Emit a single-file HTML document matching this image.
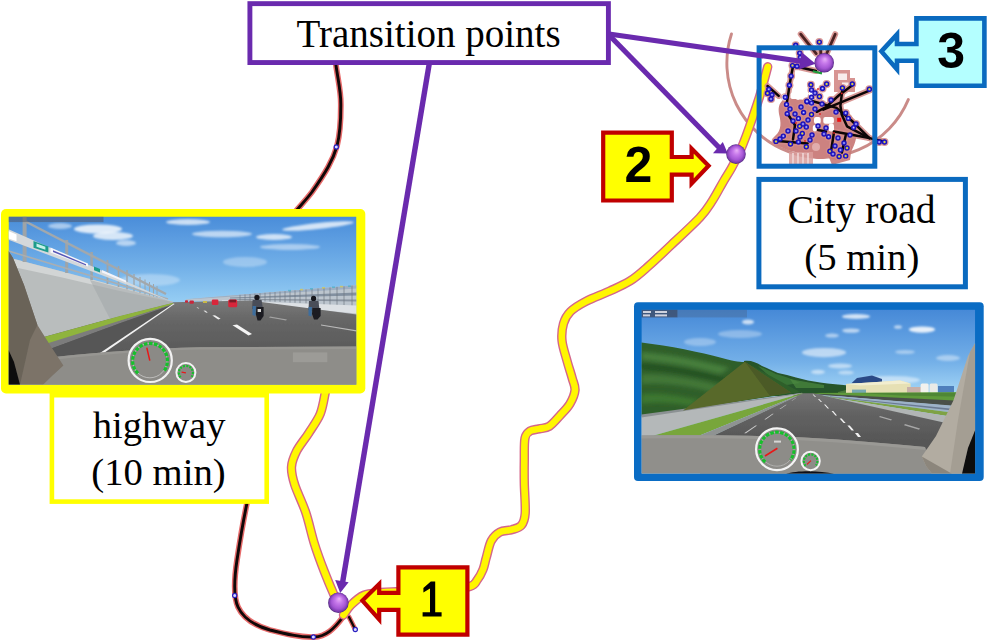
<!DOCTYPE html>
<html>
<head>
<meta charset="utf-8">
<title>Driving route with transition points</title>
<style>
  html, body { margin: 0; padding: 0; background: #ffffff; }
  body { width: 989px; height: 644px; overflow: hidden; }
  svg { display: block; }
  .serif { font-family: "Liberation Serif", serif; font-size: 38px; fill: #000; }
  .num { font-family: "Liberation Sans", sans-serif; font-weight: bold; font-size: 50px; fill: #000; }
</style>
</head>
<body>
<svg width="989" height="644" viewBox="0 0 989 644">
  <defs>
    <radialGradient id="ball" cx="0.5" cy="0.5" r="0.5" fx="0.54" fy="0.3">
      <stop offset="0" stop-color="#e9b0f8"/>
      <stop offset="0.35" stop-color="#c678ea"/>
      <stop offset="0.7" stop-color="#a556d4"/>
      <stop offset="0.9" stop-color="#7c3cae"/>
      <stop offset="1" stop-color="#4a2478"/>
    </radialGradient>
    <linearGradient id="sky1" x1="0" y1="0" x2="0" y2="1">
      <stop offset="0" stop-color="#4a8dd9"/>
      <stop offset="0.12" stop-color="#5a9be0"/>
      <stop offset="0.3" stop-color="#72b0e8"/>
      <stop offset="0.5" stop-color="#94ccf3"/>
      <stop offset="1" stop-color="#94ccf3"/>
    </linearGradient>
    <linearGradient id="sky2" x1="0" y1="0" x2="0" y2="1">
      <stop offset="0" stop-color="#4689d7"/>
      <stop offset="0.14" stop-color="#5a9adf"/>
      <stop offset="0.32" stop-color="#74b0e8"/>
      <stop offset="0.5" stop-color="#a2d4f5"/>
      <stop offset="1" stop-color="#a2d4f5"/>
    </linearGradient>
    <linearGradient id="roadct" x1="0" y1="393" x2="0" y2="440" gradientUnits="userSpaceOnUse">
      <stop offset="0" stop-color="#747474"/>
      <stop offset="0.45" stop-color="#626262"/>
      <stop offset="1" stop-color="#575757"/>
    </linearGradient>
    <linearGradient id="roadhw" x1="0" y1="301" x2="0" y2="350" gradientUnits="userSpaceOnUse">
      <stop offset="0" stop-color="#787878"/>
      <stop offset="0.4" stop-color="#666666"/>
      <stop offset="1" stop-color="#5a5a5a"/>
    </linearGradient>
    <filter id="soft" x="-5%" y="-5%" width="110%" height="110%"><feGaussianBlur stdDeviation="0.6"/></filter>
    <filter id="soft2" x="-5%" y="-5%" width="110%" height="110%"><feGaussianBlur stdDeviation="1.2"/></filter>
    <filter id="soft3" x="-10%" y="-10%" width="120%" height="120%"><feGaussianBlur stdDeviation="2.2"/></filter>
    <path id="yrA" d="M767.7,66.8 C767.1,69.1 765.4,75.6 764.0,80.7 C762.6,85.8 761.2,91.5 759.3,97.5 C757.4,103.5 755.0,110.5 752.8,117.0 C750.6,123.5 748.0,131.0 745.9,136.6 C743.8,142.2 742.6,145.5 740.3,150.6 C738.0,155.7 734.7,162.2 731.9,167.3 C729.1,172.4 726.8,175.7 723.5,181.3 C720.2,186.9 716.2,194.8 712.3,200.8 C708.3,206.9 706.6,210.2 699.8,217.6 C693.0,224.9 680.0,236.7 671.3,244.9 C662.6,253.2 654.2,261.1 647.4,267.1 C640.6,273.1 636.6,276.8 630.3,280.8 C624.0,284.8 617.2,287.6 609.8,291.0 C602.4,294.4 592.4,297.9 585.9,301.3 C579.4,304.7 574.2,307.8 570.5,311.5 C566.8,315.2 564.9,318.6 563.5,323.5 C562.1,328.4 561.4,334.3 562.0,340.6 C562.6,346.9 565.4,354.8 567.1,361.1 C568.8,367.4 570.9,373.3 572.2,378.2 C573.5,383.1 575.4,386.0 575.0,390.3 C574.6,394.6 572.4,399.6 569.9,403.9 C567.4,408.2 563.1,412.2 559.7,415.9 C556.3,419.6 552.8,424.0 549.4,426.2 C546.0,428.4 542.3,428.1 539.1,428.9 C535.9,429.7 532.4,429.5 530.0,431.0 C527.6,432.5 526.0,433.3 525.0,438.1 C524.0,442.9 524.4,452.6 524.3,460.0 C524.2,467.4 524.1,473.7 524.3,482.6 C524.4,491.5 525.7,506.2 525.2,513.3 C524.7,520.4 523.6,522.6 521.4,525.3 C519.2,528.0 515.4,528.6 511.8,529.7 C508.2,530.8 503.2,530.3 499.8,532.1 C496.4,533.9 493.6,536.4 491.3,540.7 C489.0,545.0 487.6,553.0 486.2,557.8 C484.8,562.6 484.5,565.9 483.0,569.5 C481.5,573.1 479.6,576.9 477.4,579.7 C475.2,582.5 476.0,584.6 469.8,586.5 C463.6,588.4 452.3,590.1 440.0,591.0 C427.7,591.9 405.8,591.5 396.0,591.8 C386.2,592.0 386.3,591.9 381.0,592.5 C375.7,593.1 369.0,593.1 364.0,595.2 C359.0,597.3 354.4,601.7 351.0,605.0 C347.6,608.3 344.8,613.3 343.5,615.0"/>
    <path id="yrB" d="M325.4,392.0 C324.5,395.6 323.1,406.8 320.3,413.7 C317.5,420.6 312.4,427.2 308.5,433.4 C304.6,439.6 299.4,445.5 296.6,451.1 C293.8,456.7 291.8,461.3 291.5,466.9 C291.2,472.5 292.3,477.1 294.7,484.7 C297.1,492.3 302.4,502.4 305.7,512.3 C309.0,522.1 311.3,533.9 314.4,543.8 C317.5,553.7 321.0,563.0 324.3,571.5 C327.6,580.0 331.8,589.9 334.1,595.1 C336.4,600.4 337.4,601.7 338.0,603.0"/>
    <clipPath id="clipHw"><rect x="8.5" y="216.5" width="348" height="168.3"/></clipPath>
    <clipPath id="clipCt"><rect x="641.4" y="309.6" width="333.8" height="164.2"/></clipPath>
  </defs>

  <rect x="0" y="0" width="989" height="644" fill="#ffffff"/>

  <!-- ======== range rings around city ======== -->
  <g id="rings" fill="none" stroke="#c47e7b" stroke-width="2.9" stroke-linecap="round">
    <path d="M731.46,34 A94.4,94.4 0 0 0 908.32,99.6" opacity="0.9"/>
  </g>

  <!-- ======== black route (left) ======== -->
  <g id="blackroute" fill="none" stroke-linecap="round" stroke-linejoin="round">
    <path id="br1" d="M335.8,64 C338,80 341,92 340.8,104 C340.8,118 341,130 337,146 C333,160 326,172 312,192 C306,200 300,206 296,211" stroke="#e66a6a" stroke-width="5.8"/>
    <path d="M335.8,64 C338,80 341,92 340.8,104 C340.8,118 341,130 337,146 C333,160 326,172 312,192 C306,200 300,206 296,211" stroke="#100808" stroke-width="2.9"/>
    <path d="M247,503 C243,522 240,540 237,560 C234,580 233,596 238,607 C244,620 256,626 270,630 C286,634 300,637.5 314,637 C326,636.5 334,629 343,617" stroke="#e66a6a" stroke-width="5.8"/>
    <path d="M247,503 C243,522 240,540 237,560 C234,580 233,596 238,607 C244,620 256,626 270,630 C286,634 300,637.5 314,637 C326,636.5 334,629 343,617" stroke="#100808" stroke-width="2.9"/>
    <path d="M349,617 L355,629" stroke="#e66a6a" stroke-width="5"/>
    <path d="M349,617 L355,629" stroke="#100808" stroke-width="2.4"/>
  </g>
  <g id="routemarks" fill="#d8d8ff" stroke="#2a20c0" stroke-width="1.2">
    <circle cx="336.3" cy="147" r="2.1"/>
    <circle cx="234.7" cy="595.5" r="2.1"/>
    <circle cx="313.4" cy="637" r="2.1"/>
    <circle cx="355.3" cy="629.5" r="2.1"/>
  </g>

  <!-- ======== yellow route ======== -->
  <g id="yellowroute" fill="none" stroke-linecap="round" stroke-linejoin="round">
    <use href="#yrA" stroke="#d4668a" stroke-width="9.4"/>
    <use href="#yrB" stroke="#d4668a" stroke-width="9.4"/>
    <use href="#yrA" stroke="#fff600" stroke-width="6.6"/>
    <use href="#yrB" stroke="#fff600" stroke-width="6.6"/>
  </g>

  <!-- city map placeholder -->
  <g id="citymap">
  <g filter="url(#soft)">
  <path d="M782,101 C786,96 792,98 798,100 C806,98 812,104 820,106 C828,102 836,104 842,108 C850,112 856,120 856,128 C858,138 854,146 850,154 C846,160 836,162 828,157 C822,161 812,159 806,153 C798,153 788,151 781,147 C773,146 770,140 775,136 C782,130 781,122 779,114 C778,108 779,104 782,101 Z" fill="#cc8280"/>
  <path d="M789,152 L813,152 L813,165 L789,165 Z" fill="#d99c9a" opacity="0.85"/>
  <g stroke="#f3dede" stroke-width="1.4"><path d="M793,153 L793,165"/><path d="M798,153 L798,165"/><path d="M803,153 L803,165"/><path d="M808,153 L808,165"/></g>
  <path d="M826,150 L852,146 L850,160 L832,165 Z" fill="#c97a78" opacity="0.9"/>
  <ellipse cx="816" cy="147" rx="4" ry="4" fill="#e6b8b6" opacity="0.8"/>
  <path d="M834,70 L850,70 L850,78 L855,78 L855,92 L834,92 Z" fill="#d79492"/>
  <path d="M838,73.5 L847,73.5 L847,80 L838,80 Z M842,82.5 L851.5,82.5 L851.5,89 L842,89 Z" fill="#f8ecec"/>
  </g>
  <g filter="url(#soft)" opacity="0.9">
  <g stroke="#d48d8a" stroke-width="6" stroke-linecap="round" stroke-linejoin="round" fill="none">
  <path d="M816,71 L798.4,67 L793,66.3 L791,76.8 L789.4,86 L787.9,96.5 L786.5,104.4"/>
  <path d="M767.5,86 L778.7,95.9"/>
  <path d="M869.4,90.6 L823.3,109.7"/>
  <path d="M852.3,85.3 L839,95.2 L826,107 L816.8,111.8"/>
  <path d="M842.4,89.3 L840.4,105.7 L841.7,114.5 L847,126.3 L869.4,138.1"/>
  <path d="M812.8,101.3 L836.5,107.9 L852,121 L869.4,138.1"/>
  <path d="M833.9,131.5 L869.4,138.1 L885,141.6"/>
  <path d="M795,125 L793,139.4"/>
  <path d="M774.7,140.7 L790,142 L807.6,143.4"/>
  <path d="M833.9,132.9 L831.2,150"/>
  <path d="M845.7,135.5 L841.8,152.6"/>
  <path d="M818,130 L826,131.5"/>
  <path d="M787,113 L795,125"/>
  <path d="M800.7,34.2 L816.2,53.6"/>
  <path d="M820.6,49 L820.8,54"/>
  <path d="M835.2,34.2 L826.8,53.3"/>
  </g>
  <g fill="#d48d8a">
  <circle cx="819.3" cy="42.1" r="4"/>
  <circle cx="795.7" cy="45.3" r="4"/>
  <circle cx="799.7" cy="53.1" r="4"/>
  <circle cx="800.3" cy="57.4" r="4"/>
  <circle cx="792.5" cy="65.6" r="4"/>
  <circle cx="797.0" cy="66.3" r="4"/>
  <circle cx="791.1" cy="76.1" r="4"/>
  <circle cx="789.4" cy="85.3" r="4"/>
  <circle cx="786.5" cy="104.4" r="4"/>
  <circle cx="785.2" cy="97.2" r="4"/>
  <circle cx="767.5" cy="93.2" r="4"/>
  <circle cx="772.0" cy="94.8" r="4"/>
  <circle cx="768.8" cy="89.3" r="4"/>
  <circle cx="771.0" cy="99.0" r="4"/>
  <circle cx="810.9" cy="84.7" r="4"/>
  <circle cx="826.6" cy="84.0" r="4"/>
  <circle cx="819.4" cy="96.5" r="4"/>
  <circle cx="811.5" cy="90.0" r="4"/>
  <circle cx="811.5" cy="97.2" r="4"/>
  <circle cx="811.5" cy="103.0" r="4"/>
  <circle cx="807.0" cy="101.8" r="4"/>
  <circle cx="842.4" cy="88.0" r="4"/>
  <circle cx="852.3" cy="84.0" r="4"/>
  <circle cx="869.4" cy="89.3" r="4"/>
  <circle cx="822.5" cy="88.5" r="4"/>
  <circle cx="815.0" cy="93.0" r="4"/>
  <circle cx="776.0" cy="141.4" r="4"/>
  <circle cx="783.3" cy="136.1" r="4"/>
  <circle cx="790.5" cy="144.0" r="4"/>
  <circle cx="798.4" cy="142.0" r="4"/>
  <circle cx="806.3" cy="146.7" r="4"/>
  <circle cx="802.3" cy="133.5" r="4"/>
  <circle cx="799.7" cy="126.3" r="4"/>
  <circle cx="806.3" cy="127.0" r="4"/>
  <circle cx="811.5" cy="114.5" r="4"/>
  <circle cx="787.2" cy="113.8" r="4"/>
  <circle cx="798.4" cy="118.4" r="4"/>
  <circle cx="803.6" cy="112.5" r="4"/>
  <circle cx="806.9" cy="101.3" r="4"/>
  <circle cx="829.9" cy="151.3" r="4"/>
  <circle cx="839.1" cy="156.5" r="4"/>
  <circle cx="845.7" cy="155.9" r="4"/>
  <circle cx="847.0" cy="148.0" r="4"/>
  <circle cx="840.4" cy="150.0" r="4"/>
  <circle cx="879.2" cy="142.0" r="4"/>
  <circle cx="884.5" cy="142.0" r="4"/>
  <circle cx="845.7" cy="113.1" r="4"/>
  <circle cx="828.6" cy="136.8" r="4"/>
  <circle cx="853.6" cy="127.6" r="4"/>
  <circle cx="848.3" cy="118.4" r="4"/>
  <circle cx="793.0" cy="121.0" r="4"/>
  <circle cx="808.0" cy="120.0" r="4"/>
  <circle cx="803.0" cy="124.0" r="4"/>
  <circle cx="796.0" cy="131.0" r="4"/>
  <circle cx="812.0" cy="135.0" r="4"/>
  <circle cx="835.0" cy="146.0" r="4"/>
  <circle cx="844.0" cy="143.0" r="4"/>
  <circle cx="780.0" cy="139.0" r="4"/>
  <circle cx="836.0" cy="112.0" r="4"/>
  <circle cx="856.0" cy="124.0" r="4"/>
  <circle cx="790.0" cy="109.0" r="4"/>
  <circle cx="795.0" cy="114.0" r="4"/>
  <circle cx="801.0" cy="107.0" r="4"/>
  <circle cx="815.0" cy="109.0" r="4"/>
  <circle cx="822.0" cy="104.0" r="4"/>
  <circle cx="831.0" cy="100.0" r="4"/>
  <circle cx="818.0" cy="126.0" r="4"/>
  <circle cx="824.0" cy="134.0" r="4"/>
  <circle cx="810.0" cy="140.0" r="4"/>
  <circle cx="800.0" cy="137.0" r="4"/>
  <circle cx="788.0" cy="131.0" r="4"/>
  <circle cx="826.0" cy="128.0" r="4"/>
  <circle cx="850.0" cy="135.0" r="4"/>
  <circle cx="838.0" cy="138.0" r="4"/>
  <circle cx="833.0" cy="154.0" r="4"/>
  </g></g>
  <g fill="#ffffff" filter="url(#soft)">
  <rect x="782.0" y="94.5" width="6.0" height="6.0" rx="2"/>
  <rect x="790.5" y="92.6" width="6.9" height="6.4" rx="2"/>
  <rect x="799.7" y="88.0" width="7.3" height="5.9" rx="2"/>
  <rect x="808.9" y="87.3" width="4.6" height="18.4" rx="2"/>
  <rect x="814.0" y="117.0" width="6.7" height="6.7" rx="2"/>
  <rect x="823.3" y="117.0" width="10.6" height="6.7" rx="2"/>
  <rect x="828.6" y="123.7" width="5.4" height="7.8" rx="2"/>
  <rect x="812.8" y="125.0" width="4.0" height="6.5" rx="2"/>
  </g>
  <g stroke="#4a2222" stroke-width="2.8" stroke-linecap="round" fill="none">
  <path d="M800.7,34.2 L816.2,53.6"/>
  <path d="M820.6,49 L820.8,54"/>
  <path d="M835.2,34.2 L826.8,53.3"/>
  </g>
  <g stroke="#0c0606" stroke-width="2.5" stroke-linecap="round" stroke-linejoin="round" fill="none">
  <path d="M816,71 L798.4,67 L793,66.3 L791,76.8 L789.4,86 L787.9,96.5 L786.5,104.4"/>
  <path d="M767.5,86 L778.7,95.9"/>
  <path d="M869.4,90.6 L823.3,109.7"/>
  <path d="M852.3,85.3 L839,95.2 L826,107 L816.8,111.8"/>
  <path d="M842.4,89.3 L840.4,105.7 L841.7,114.5 L847,126.3 L869.4,138.1"/>
  <path d="M812.8,101.3 L836.5,107.9 L852,121 L869.4,138.1"/>
  <path d="M833.9,131.5 L869.4,138.1 L885,141.6"/>
  <path d="M795,125 L793,139.4"/>
  <path d="M774.7,140.7 L790,142 L807.6,143.4"/>
  <path d="M833.9,132.9 L831.2,150"/>
  <path d="M845.7,135.5 L841.8,152.6"/>
  <path d="M818,130 L826,131.5"/>
  <path d="M787,113 L795,125"/>
  </g>
  <path d="M812.8,71.2 L822,73.4" stroke="#1f9a3a" stroke-width="2.2" fill="none"/>
  <g fill="#4a44e0" stroke="#1a10b8" stroke-width="1.2">
  <circle cx="819.3" cy="42.1" r="2.1"/>
  <circle cx="795.7" cy="45.3" r="2.1"/>
  <circle cx="799.7" cy="53.1" r="2.1"/>
  <circle cx="800.3" cy="57.4" r="2.1"/>
  <circle cx="792.5" cy="65.6" r="2.1"/>
  <circle cx="797.0" cy="66.3" r="2.1"/>
  <circle cx="791.1" cy="76.1" r="2.1"/>
  <circle cx="789.4" cy="85.3" r="2.1"/>
  <circle cx="786.5" cy="104.4" r="2.1"/>
  <circle cx="785.2" cy="97.2" r="2.1"/>
  <circle cx="767.5" cy="93.2" r="2.1"/>
  <circle cx="772.0" cy="94.8" r="2.1"/>
  <circle cx="768.8" cy="89.3" r="2.1"/>
  <circle cx="771.0" cy="99.0" r="2.1"/>
  <circle cx="810.9" cy="84.7" r="2.1"/>
  <circle cx="826.6" cy="84.0" r="2.1"/>
  <circle cx="819.4" cy="96.5" r="2.1"/>
  <circle cx="811.5" cy="90.0" r="2.1"/>
  <circle cx="811.5" cy="97.2" r="2.1"/>
  <circle cx="811.5" cy="103.0" r="2.1"/>
  <circle cx="807.0" cy="101.8" r="2.1"/>
  <circle cx="842.4" cy="88.0" r="2.1"/>
  <circle cx="852.3" cy="84.0" r="2.1"/>
  <circle cx="869.4" cy="89.3" r="2.1"/>
  <circle cx="822.5" cy="88.5" r="2.1"/>
  <circle cx="815.0" cy="93.0" r="2.1"/>
  <circle cx="776.0" cy="141.4" r="2.1"/>
  <circle cx="783.3" cy="136.1" r="2.1"/>
  <circle cx="790.5" cy="144.0" r="2.1"/>
  <circle cx="798.4" cy="142.0" r="2.1"/>
  <circle cx="806.3" cy="146.7" r="2.1"/>
  <circle cx="802.3" cy="133.5" r="2.1"/>
  <circle cx="799.7" cy="126.3" r="2.1"/>
  <circle cx="806.3" cy="127.0" r="2.1"/>
  <circle cx="811.5" cy="114.5" r="2.1"/>
  <circle cx="787.2" cy="113.8" r="2.1"/>
  <circle cx="798.4" cy="118.4" r="2.1"/>
  <circle cx="803.6" cy="112.5" r="2.1"/>
  <circle cx="806.9" cy="101.3" r="2.1"/>
  <circle cx="829.9" cy="151.3" r="2.1"/>
  <circle cx="839.1" cy="156.5" r="2.1"/>
  <circle cx="845.7" cy="155.9" r="2.1"/>
  <circle cx="847.0" cy="148.0" r="2.1"/>
  <circle cx="840.4" cy="150.0" r="2.1"/>
  <circle cx="879.2" cy="142.0" r="2.1"/>
  <circle cx="884.5" cy="142.0" r="2.1"/>
  <circle cx="845.7" cy="113.1" r="2.1"/>
  <circle cx="828.6" cy="136.8" r="2.1"/>
  <circle cx="853.6" cy="127.6" r="2.1"/>
  <circle cx="848.3" cy="118.4" r="2.1"/>
  <circle cx="793.0" cy="121.0" r="2.1"/>
  <circle cx="808.0" cy="120.0" r="2.1"/>
  <circle cx="803.0" cy="124.0" r="2.1"/>
  <circle cx="796.0" cy="131.0" r="2.1"/>
  <circle cx="812.0" cy="135.0" r="2.1"/>
  <circle cx="835.0" cy="146.0" r="2.1"/>
  <circle cx="844.0" cy="143.0" r="2.1"/>
  <circle cx="780.0" cy="139.0" r="2.1"/>
  <circle cx="836.0" cy="112.0" r="2.1"/>
  <circle cx="856.0" cy="124.0" r="2.1"/>
  <circle cx="790.0" cy="109.0" r="2.1"/>
  <circle cx="795.0" cy="114.0" r="2.1"/>
  <circle cx="801.0" cy="107.0" r="2.1"/>
  <circle cx="815.0" cy="109.0" r="2.1"/>
  <circle cx="822.0" cy="104.0" r="2.1"/>
  <circle cx="831.0" cy="100.0" r="2.1"/>
  <circle cx="818.0" cy="126.0" r="2.1"/>
  <circle cx="824.0" cy="134.0" r="2.1"/>
  <circle cx="810.0" cy="140.0" r="2.1"/>
  <circle cx="800.0" cy="137.0" r="2.1"/>
  <circle cx="788.0" cy="131.0" r="2.1"/>
  <circle cx="826.0" cy="128.0" r="2.1"/>
  <circle cx="850.0" cy="135.0" r="2.1"/>
  <circle cx="838.0" cy="138.0" r="2.1"/>
  <circle cx="833.0" cy="154.0" r="2.1"/>
  </g>
  <g fill="#c8c8ff">
  <circle cx="795.7" cy="45.3" r="0.8"/>
  <circle cx="799.7" cy="53.1" r="0.8"/>
  <circle cx="800.3" cy="57.4" r="0.8"/>
  <circle cx="797.0" cy="66.3" r="0.8"/>
  <circle cx="791.1" cy="76.1" r="0.8"/>
  <circle cx="789.4" cy="85.3" r="0.8"/>
  <circle cx="786.5" cy="104.4" r="0.8"/>
  <circle cx="785.2" cy="97.2" r="0.8"/>
  <circle cx="772.0" cy="94.8" r="0.8"/>
  <circle cx="768.8" cy="89.3" r="0.8"/>
  <circle cx="771.0" cy="99.0" r="0.8"/>
  <circle cx="811.5" cy="90.0" r="0.8"/>
  <circle cx="811.5" cy="97.2" r="0.8"/>
  <circle cx="811.5" cy="103.0" r="0.8"/>
  <circle cx="807.0" cy="101.8" r="0.8"/>
  <circle cx="822.5" cy="88.5" r="0.8"/>
  <circle cx="815.0" cy="93.0" r="0.8"/>
  <circle cx="783.3" cy="136.1" r="0.8"/>
  <circle cx="798.4" cy="142.0" r="0.8"/>
  <circle cx="806.3" cy="127.0" r="0.8"/>
  <circle cx="787.2" cy="113.8" r="0.8"/>
  <circle cx="798.4" cy="118.4" r="0.8"/>
  <circle cx="803.6" cy="112.5" r="0.8"/>
  <circle cx="806.9" cy="101.3" r="0.8"/>
  <circle cx="840.4" cy="150.0" r="0.8"/>
  <circle cx="879.2" cy="142.0" r="0.8"/>
  <circle cx="845.7" cy="113.1" r="0.8"/>
  <circle cx="828.6" cy="136.8" r="0.8"/>
  <circle cx="853.6" cy="127.6" r="0.8"/>
  <circle cx="848.3" cy="118.4" r="0.8"/>
  <circle cx="793.0" cy="121.0" r="0.8"/>
  <circle cx="808.0" cy="120.0" r="0.8"/>
  <circle cx="803.0" cy="124.0" r="0.8"/>
  <circle cx="796.0" cy="131.0" r="0.8"/>
  <circle cx="812.0" cy="135.0" r="0.8"/>
  <circle cx="835.0" cy="146.0" r="0.8"/>
  <circle cx="844.0" cy="143.0" r="0.8"/>
  <circle cx="780.0" cy="139.0" r="0.8"/>
  <circle cx="836.0" cy="112.0" r="0.8"/>
  <circle cx="856.0" cy="124.0" r="0.8"/>
  <circle cx="790.0" cy="109.0" r="0.8"/>
  <circle cx="795.0" cy="114.0" r="0.8"/>
  <circle cx="801.0" cy="107.0" r="0.8"/>
  <circle cx="815.0" cy="109.0" r="0.8"/>
  <circle cx="822.0" cy="104.0" r="0.8"/>
  <circle cx="831.0" cy="100.0" r="0.8"/>
  <circle cx="818.0" cy="126.0" r="0.8"/>
  <circle cx="824.0" cy="134.0" r="0.8"/>
  <circle cx="810.0" cy="140.0" r="0.8"/>
  <circle cx="800.0" cy="137.0" r="0.8"/>
  <circle cx="788.0" cy="131.0" r="0.8"/>
  <circle cx="826.0" cy="128.0" r="0.8"/>
  <circle cx="850.0" cy="135.0" r="0.8"/>
  <circle cx="838.0" cy="138.0" r="0.8"/>
  <circle cx="833.0" cy="154.0" r="0.8"/>
  </g>
  <g fill="#e8e020">
  <circle cx="819.3" cy="42.1" r="1"/>
  <circle cx="792.5" cy="65.6" r="1"/>
  <circle cx="767.5" cy="93.2" r="1"/>
  <circle cx="810.9" cy="84.7" r="1"/>
  <circle cx="826.6" cy="84.0" r="1"/>
  <circle cx="819.4" cy="96.5" r="1"/>
  <circle cx="842.4" cy="88.0" r="1"/>
  <circle cx="852.3" cy="84.0" r="1"/>
  <circle cx="869.4" cy="89.3" r="1"/>
  <circle cx="776.0" cy="141.4" r="1"/>
  <circle cx="790.5" cy="144.0" r="1"/>
  <circle cx="806.3" cy="146.7" r="1"/>
  <circle cx="829.9" cy="151.3" r="1"/>
  <circle cx="839.1" cy="156.5" r="1"/>
  <circle cx="845.7" cy="155.9" r="1"/>
  <circle cx="847.0" cy="148.0" r="1"/>
  <circle cx="884.5" cy="142.0" r="1"/>
  <circle cx="799.7" cy="126.3" r="1"/>
  <circle cx="802.3" cy="133.5" r="1"/>
  <circle cx="811.5" cy="114.5" r="1"/>
  </g>
  <rect x="837.2" y="117.8" width="4" height="4" fill="#f01010"/>
  <g fill="#e02020"><circle cx="841.8" cy="93.4" r="0.9"/><circle cx="818" cy="89" r="0.9"/><circle cx="796" cy="123" r="0.9"/><circle cx="805" cy="141" r="0.9"/><circle cx="834" cy="133" r="0.9"/><circle cx="820" cy="114" r="0.9"/></g>
  </g><!--/citymap-->


  <!-- blue box around city map -->
  <rect x="759.1" y="47.8" width="115.7" height="118.4" fill="none" stroke="#0a6abf" stroke-width="5"/>

  <!-- ======== highway screenshot ======== -->
  <rect x="1" y="209" width="364.3" height="184.4" rx="5" ry="5" fill="#ffff00"/>
  <g id="hwimg" clip-path="url(#clipHw)">
    <rect x="8.5" y="216.5" width="348" height="168.3" fill="url(#sky1)"/>
    <!-- clouds -->
    <g fill="#ffffff" filter="url(#soft2)">
      <ellipse cx="98" cy="229" rx="24" ry="4.5" opacity="0.8"/>
      <ellipse cx="113" cy="236" rx="20" ry="4" opacity="0.75"/>
      <ellipse cx="126" cy="243" rx="10" ry="3" opacity="0.55"/>
      <ellipse cx="188" cy="222" rx="22" ry="3" opacity="0.7"/>
      <ellipse cx="222" cy="234" rx="30" ry="3.2" opacity="0.6"/>
      <ellipse cx="274" cy="237" rx="18" ry="3" opacity="0.7"/>
      <ellipse cx="318" cy="226" rx="36" ry="3" opacity="0.75" transform="rotate(-6 318 226)"/>
      <ellipse cx="290" cy="247" rx="30" ry="3" opacity="0.45"/>
      <ellipse cx="245" cy="262" rx="22" ry="5" opacity="0.3"/>
      <ellipse cx="150" cy="280" rx="30" ry="6" opacity="0.3"/>
      <ellipse cx="60" cy="226" rx="12" ry="3" opacity="0.5"/>
    </g>
    <g filter="url(#soft)">
      <!-- right guardrail wedge -->
      <polygon points="186,299.2 356.5,285.3 356.5,308 186,300.4" fill="#bcc5ce"/>
      <polygon points="186,299.2 356.5,285.3 356.5,288.6 186,299.6" fill="#9dafc3"/>
      <polygon points="230,297.6 356.5,292.6 356.5,295.4 230,298.6" fill="#8290a0"/>
      <polygon points="230,299 356.5,299.4 356.5,301.6 230,299.8" fill="#8a94a0"/>
      <g stroke="#6d7680" stroke-width="0.9" opacity="0.75">
        <line x1="352" y1="285.6" x2="352" y2="307"/><line x1="344" y1="286.3" x2="344" y2="306.6"/><line x1="337" y1="286.9" x2="337" y2="306"/>
        <line x1="330" y1="287.5" x2="330" y2="305.6"/><line x1="324" y1="288" x2="324" y2="305"/><line x1="318" y1="288.5" x2="318" y2="304.6"/>
        <line x1="312" y1="289" x2="312" y2="304"/><line x1="306" y1="289.5" x2="306" y2="303.6"/><line x1="300" y1="290" x2="300" y2="303.2"/>
        <line x1="295" y1="290.4" x2="295" y2="302.8"/><line x1="290" y1="290.8" x2="290" y2="302.6"/><line x1="285" y1="291.2" x2="285" y2="302.3"/>
        <line x1="280" y1="291.6" x2="280" y2="302"/><line x1="275" y1="292" x2="275" y2="301.8"/><line x1="270" y1="292.4" x2="270" y2="301.6"/>
        <line x1="265" y1="292.8" x2="265" y2="301.4"/><line x1="260" y1="293.2" x2="260" y2="301.2"/><line x1="255" y1="293.6" x2="255" y2="301"/>
        <line x1="250" y1="294" x2="250" y2="300.9"/><line x1="245" y1="294.4" x2="245" y2="300.8"/><line x1="240" y1="294.8" x2="240" y2="300.7"/>
      </g>
      <g fill="#d8c84a" opacity="0.7"><rect x="300" y="288.8" width="3" height="1.6"/><rect x="322" y="287" width="3" height="1.6"/><rect x="340" y="285.8" width="3" height="1.6"/></g>
      <g fill="#4ab0c8" opacity="0.7"><rect x="310" y="288" width="3" height="1.6"/><rect x="332" y="286.4" width="3" height="1.6"/><rect x="348" y="285.4" width="3" height="1.6"/><rect x="288" y="289.8" width="3" height="1.6"/></g>
      <polygon points="222,300.2 356.5,305.6 356.5,316.8 222,301.4" fill="#dde1e5"/>
      <polygon points="222,301 356.5,313.4 356.5,316.8 222,301.6" fill="#b9bec4"/>
      <!-- road -->
      <polygon points="8.5,384.8 8.5,345 172.5,302.2 250,300.6 356.5,314.5 356.5,384.8" fill="url(#roadhw)"/>
      
      <!-- concrete wall -->
      <polygon points="8.5,257.5 60,271 120,287 172.5,301.5 172.5,303 120,316 44,337 8.5,346" fill="#b9bdbd"/>
      <polygon points="8.5,257.5 60,271 120,287 172.5,301.5 172.5,302 120,291 60,277 8.5,266" fill="#d2d5d5"/>
      <polygon points="90,280 172.5,301.6 172.5,303 110,319" fill="#a3a8a9" opacity="0.55"/>
      <!-- grass strip -->
      <polygon points="44,337 120,316 172.5,303 173.5,304 122,320.5 47,345" fill="#8fb43c"/>
      <polygon points="47,343.6 122,320 173.5,304 173.6,304.2 122,322.6 48.6,349.6" fill="#7c7c7c"/>
      <!-- road left shoulder darker -->
      <polygon points="48.6,349.6 122,322.6 173.6,304.2 174,304.6 100.6,352.3 40,360" fill="#565656"/>
      <!-- lane lines -->
      <polygon points="100,353 103.5,353.3 174.6,304 173.6,303.6" fill="#f2f2f2"/>
      <polygon points="232.5,325.3 237,324.6 252,334 248.5,335.6" fill="#f4f4f4"/>
      <polygon points="212.4,315.6 215,315.2 220.6,318.8 218.2,319.6" fill="#efefef"/>
      <polygon points="203.5,310.8 205.2,310.6 207.8,312.4 206.2,312.8" fill="#e4e4e4"/>
      <polygon points="196.5,307.4 197.8,307.3 199.4,308.4 198.2,308.6" fill="#d8d8d8"/>
      <polygon points="321,324.6 356.5,330.2 356.5,331.4 321,325.6" fill="#cfcfcf" opacity="0.8"/>
      <polygon points="270,316.6 287,319.6 286,320.6 269,317.6" fill="#bdbdbd" opacity="0.7"/>
      <!-- fence posts and rails on left wall -->
      <g stroke="#9ea4a8" fill="none">
        <line x1="24.6" y1="216.5" x2="24.6" y2="262" stroke-width="4"/>
        <line x1="66.7" y1="240" x2="66.7" y2="273" stroke-width="3"/>
        <line x1="91.6" y1="252" x2="91.6" y2="280" stroke-width="2.6"/>
        <line x1="107.5" y1="260" x2="107.5" y2="284" stroke-width="1.8"/>
        <line x1="118.5" y1="266" x2="118.5" y2="287" stroke-width="1.6"/>
        <line x1="127" y1="270" x2="127" y2="289.5" stroke-width="1.4"/>
        <line x1="134" y1="274" x2="134" y2="291.5" stroke-width="1.3"/>
        <line x1="140" y1="277" x2="140" y2="293" stroke-width="1.2"/>
        <line x1="145" y1="279.6" x2="145" y2="294.4" stroke-width="1.1"/>
        <line x1="149.5" y1="282" x2="149.5" y2="295.6" stroke-width="1"/>
        <line x1="153.5" y1="284" x2="153.5" y2="296.6" stroke-width="1"/>
        <line x1="157" y1="286" x2="157" y2="297.6" stroke-width="1"/>
        <line x1="24" y1="220.8" x2="166" y2="294" stroke-width="2.4" stroke="#a2a8ac"/>
        <line x1="8.5" y1="251" x2="168" y2="299" stroke-width="1.6" stroke="#a9aeb2"/>
      </g>
      <!-- banner rail -->
      <polygon points="8.5,229.3 172.5,302 8.5,239.8" fill="#d4d8db"/>
      <polygon points="8.5,231 16.5,234.4 16.5,241.2 8.5,238.6" fill="#ffffff"/>
      <polygon points="33.5,241 48.4,246.4 48.4,252.4 33.5,247.8" fill="#1c9c8c"/>
      <polygon points="36.5,243.6 45.4,246.8 45.4,249.8 36.5,246.8" fill="#c6f0e8"/>
      <polygon points="50.5,247.6 88,263.6 88,266.4 50.5,252.6" fill="#f6f6fb"/>
      <polygon points="53,250.2 86,264.2 86,265.4 53,252" fill="#3a3aa8" opacity="0.85"/>
      <polygon points="94,266.4 100,269 100,272.4 94,270.2" fill="#1c9c8c"/>
      <polygon points="102,270 126,280.6 126,282.4 102,272.6" fill="#f4f4fa"/>
      <!-- vehicles -->
      <rect x="228.2" y="299.6" width="9" height="7.6" rx="1.5" fill="#d8283a"/>
      <rect x="229.4" y="299.8" width="6.6" height="2.6" fill="#7a1a26"/>
      <rect x="211.8" y="299.6" width="6.6" height="5.4" rx="1.2" fill="#d8283a"/>
      <rect x="189.5" y="300.4" width="4.4" height="3.4" rx="1" fill="#c8283a"/>
      <rect x="185" y="300.2" width="3" height="2.6" rx="0.8" fill="#c8283a"/>
      <rect x="203" y="301" width="4" height="2" fill="#c8b848"/>
      <!-- motorbike 1 -->
      <g>
        <ellipse cx="257" cy="297.6" rx="2.6" ry="2.8" fill="#15171c"/>
        <path d="M252.6,300 L261.6,300 L263,309 L258.5,311 L252,309 Z" fill="#4a4e58"/>
        <path d="M252.6,306 L256,306 L255.5,316 L252.4,315 Z" fill="#3e6e9e"/>
        <path d="M256.5,307 L263.6,307 L263.6,316 L260.5,320.6 L257.5,320.6 L255.8,314 Z" fill="#1b1c20"/>
        <rect x="257.6" y="309" width="3.4" height="3" fill="#d8d8d8"/>
      </g>
      <!-- motorbike 2 -->
      <g>
        <ellipse cx="313.6" cy="298.6" rx="2.6" ry="2.8" fill="#15171c"/>
        <path d="M309,301 L318.4,301 L319.6,310 L315,312 L308.4,310 Z" fill="#4a4e58"/>
        <path d="M308.6,307 L312,307 L311.5,316.5 L308.4,315.5 Z" fill="#3e6e9e"/>
        <path d="M312.5,308 L320.6,308 L320.6,316 L317.5,319.6 L314,319.6 L312,314 Z" fill="#1b1c20"/>
      </g>
      <!-- dashboard -->
      <path d="M8.5,384.8 L8.5,362 L57,356.8 C100,352 150,348.4 200,347.2 L356.5,346.6 L356.5,384.8 Z" fill="#8e8d89"/>
      <path d="M8.5,362 L57,356.8 C100,352 150,348.4 200,347.2 L356.5,346.6 L356.5,349 L200,349.6 C150,350.8 100,354.6 57,359.4 L8.5,364.6 Z" fill="#979692"/>
      <rect x="292.9" y="352.4" width="34.4" height="9.8" fill="#9c9b97"/>
      <!-- left pillar -->
      <polygon points="8.5,251 13,258 24,285 37.4,325 50,345 63.4,365.4 52,376 43,384.8 8.5,384.8" fill="#7b7368"/>
      <polygon points="8.5,251 13,258 24,285 37.4,325 30,340 20,384.8 8.5,384.8" fill="#6a6359"/>
      <polygon points="8.5,350 14,362 20,384.8 8.5,384.8" fill="#0d0d0f"/>
    </g>
    <!-- title strip -->
    <rect x="8.5" y="216.5" width="95" height="5.6" fill="#50586a" opacity="0.55" filter="url(#soft)"/>
    <!-- gauges -->
    <g>
      <circle cx="150.2" cy="360.4" r="21.6" fill="#8b8a86" stroke="#f2f2f2" stroke-width="2.2"/>
      <circle cx="149.8" cy="360.6" r="17.2" fill="none" stroke="#e4e4e4" stroke-width="0.8" opacity="0.7"/>
      <path d="M138,373.4 A17.4,17.4 0 1 1 164,371.2" fill="none" stroke="#16c02c" stroke-width="3.2" stroke-dasharray="3.6 1.4"/>
      <line x1="149.8" y1="360.6" x2="146.8" y2="347.6" stroke="#e81818" stroke-width="1.5"/>
      <circle cx="185.9" cy="372.6" r="9.5" fill="#8b8a86" stroke="#f2f2f2" stroke-width="2"/>
      <path d="M180.6,377.4 A7,7 0 1 1 191.6,376.8" fill="none" stroke="#16c02c" stroke-width="2.2" stroke-dasharray="2 1.2"/>
      <line x1="185.9" y1="372.8" x2="181.6" y2="372.2" stroke="#e81818" stroke-width="1.2"/>
    </g>
  </g>

  <!-- highway label -->
  <rect x="51.9" y="395.2" width="214.8" height="106.4" fill="#ffffff" stroke="#ffff00" stroke-width="4.6"/>
  <text class="serif" x="159.1" y="438.3" text-anchor="middle" style="font-size:38.6px">highway</text>
  <text class="serif" x="158.5" y="485" text-anchor="middle" style="font-size:38.7px">(10 min)</text>

  <!-- ======== city screenshot ======== -->
  <rect x="634" y="302.2" width="349.7" height="178.9" rx="4" ry="4" fill="#0a6cc4"/>
  <g id="ctimg" clip-path="url(#clipCt)">
    <rect x="641.4" y="309.6" width="333.8" height="164.2" fill="url(#sky2)"/>
    <!-- clouds -->
    <g fill="#ffffff" filter="url(#soft2)">
      <ellipse cx="748" cy="322" rx="6" ry="2.4" opacity="0.7"/>
      <ellipse cx="856" cy="316.5" rx="14" ry="2.6" opacity="0.75"/>
      <ellipse cx="851" cy="330.6" rx="9" ry="2.2" opacity="0.6"/>
      <ellipse cx="832" cy="335.6" rx="7" ry="2" opacity="0.5"/>
      <ellipse cx="898" cy="327" rx="4" ry="1.8" opacity="0.6"/>
      <ellipse cx="922" cy="329.6" rx="13" ry="3.2" opacity="0.85"/>
      <ellipse cx="824" cy="352.6" rx="22" ry="4.6" opacity="0.55"/>
      <ellipse cx="840" cy="366" rx="12" ry="2.6" opacity="0.5"/>
      <ellipse cx="846" cy="372.6" rx="8" ry="2" opacity="0.45"/>
      <ellipse cx="818" cy="372" rx="7" ry="2.2" opacity="0.5"/>
      <ellipse cx="700" cy="342" rx="16" ry="4" opacity="0.3"/>
      <ellipse cx="740" cy="334" rx="22" ry="4" opacity="0.3"/>
      <ellipse cx="905" cy="352" rx="10" ry="2" opacity="0.4"/>
      <ellipse cx="948" cy="358" rx="12" ry="3" opacity="0.4"/>
      <ellipse cx="890" cy="380" rx="30" ry="4" opacity="0.45"/>
    </g>
    <g filter="url(#soft)">
      <!-- far trees -->
      <path d="M744,361 C750,360 756,362 762,366 C768,368 772,371 778,373 C784,374 790,376 796,377.6 C804,379.6 812,381.6 820,382.6 C830,384 840,384.6 852,386 L852,396 L744,396 Z" fill="#27542a"/>
      <path d="M758,366 C764,368 770,371 776,374 C784,376 792,379 800,383 L780,386 Z" fill="#3f7a38" opacity="0.8"/>
      <path d="M790,379 C800,381 812,383 824,385 L824,388 L796,388 Z" fill="#4b8a40" opacity="0.7"/>
      <!-- back hill -->
      <path d="M641.4,342.5 C670,346 700,352 722,358 C735,362 742,362 745,362 L800,392 L641.4,417 Z" fill="#2f5f2a"/>
      <g filter="url(#soft3)" opacity="0.85">
        <path d="M641.4,352 C670,354 700,360 730,368 L720,374 C690,366 665,362 641.4,360 Z" fill="#4c8440"/>
        <path d="M641.4,374 C670,374 700,380 722,386 L712,392 C690,386 665,382 641.4,384 Z" fill="#467c3a"/>
        <path d="M641.4,394 C660,392 680,396 700,400 L690,406 C670,402 655,402 641.4,404 Z" fill="#3f7c33"/>
        <path d="M641.4,364 C670,366 700,372 724,378 L724,382 C700,376 670,370 641.4,368 Z" fill="#1d4a1c"/>
      </g>
      <!-- buildings -->
      <polygon points="851.4,383.3 857,378 872,375.6 882,379 882,383.3" fill="#2c4a86"/>
      <polygon points="846,384 900,380.6 910.6,383.6 910.6,394.6 846,394.6" fill="#e6e0b4"/>
      <polygon points="846,384 900,380.6 910.6,383.6 860,385.6" fill="#f2eed0"/>
      <rect x="852" y="389.6" width="14" height="3.6" fill="#5a9ab0" opacity="0.8"/>
      <rect x="907" y="387" width="14" height="7.6" fill="#c8b0a8"/>
      <rect x="920.6" y="383.6" width="8" height="9.4" rx="1.5" fill="#f2f2ee"/>
      <rect x="929.6" y="383.6" width="8" height="9.4" rx="1.5" fill="#eaeae6"/>
      <rect x="938" y="386" width="16" height="7" fill="#3c6cae" opacity="0.8"/>
      <polygon points="838,392 846,390 846,394.6 838,394.6" fill="#4a7a3a"/>
      <!-- right green -->
      <polygon points="812,393 975.2,392 975.2,404 812,393.6" fill="#5f9a3a"/>
      <polygon points="860,393 975.2,393 975.2,397 900,395.6" fill="#4f8636"/>
      <!-- right median / guardrail -->
      <polygon points="812,393.5 975.2,401.6 975.2,408 812,394" fill="#4a5048"/>
      <polygon points="812,394 975.2,407.6 975.2,415.6 812,394.4" fill="#9db2c8"/>
      <polygon points="830,396.6 975.2,411 975.2,413 830,397" fill="#6a7a92"/>
      <polygon points="812,394.4 975.2,415.4 975.2,420.6 812,394.6" fill="#7ea244"/>
      <polygon points="812,394.6 975.2,420.4 975.2,430 812,394.8" fill="#b1b5b5"/>
      <!-- road -->
      <polygon points="802.6,393.2 812.6,393.2 975.2,429.6 975.2,473.8 700,473.8 713.3,435.6" fill="url(#roadct)"/>
      <!-- left sidewalk + grass + curb -->
      <polygon points="641.4,416.3 802.2,393 802.4,393.3 653,435.8 641.4,435.8" fill="#b4b8b9"/>
      <polygon points="641.4,414.6 802.2,392.8 802.2,393.4 641.4,417.6" fill="#8b9193"/>
      <polygon points="653,435.8 802.4,393.3 802.6,393.4 699,435.8" fill="#78a63a"/>
      <polygon points="699,435.8 802.6,393.4 802.8,393.5 713.3,435.8" fill="#8f9392"/>
      <!-- olive embankment -->
      <polygon points="744.9,361.8 790.9,392.5 740,401 683.1,410.6" fill="#59692c"/>
      <polygon points="744.9,361.8 790.9,392.5 770,396" fill="#4b5a26"/>
      <!-- lane dashes -->
      <g fill="#f2f2f2">
        <polygon points="812.6,394.6 813.6,394.6 816,397 815,397"/>
        <polygon points="818,399 819.2,399 822,402 820.8,402"/>
        <polygon points="824,404.4 825.4,404.4 829,408.4 827.6,408.4"/>
        <polygon points="831.6,411 833.2,411 837,415.4 835.4,415.4"/>
        <polygon points="839.6,418.4 841.6,418.4 845.6,423 843.6,423"/>
        <polygon points="847.4,425.6 849.8,425.6 854,430.6 851.6,430.6"/>
        <polygon points="855,433 858,433 861,437 858,437"/>
        <polygon points="795.9,397.7 796.4,397.7 792.1,400.8 791.5,400.8" opacity="0.75"/>
        <polygon points="785.8,404.7 786.6,404.7 780.5,409.0 779.5,409.0" opacity="0.75"/>
        <polygon points="772.5,413.8 773.7,413.8 765.7,419.4 764.3,419.4" opacity="0.75"/>
        <polygon points="755.5,425.5 757.1,425.5 746.0,433.3 744.1,433.3" opacity="0.75"/>
        <polygon points="880,416 892,419.6 891,420.6 879,417" opacity="0.5"/>
        <polygon points="905,424 920,428.6 919,429.8 904,425.2" opacity="0.5"/>
      </g>
      <!-- dashboard -->
      <path d="M641.4,473.8 L641.4,435.6 C700,435 760,435.2 804,437.6 C850,440 890,444 925,447 L940,473.8 Z" fill="#908f8b"/>
      <path d="M641.4,435.6 C700,435 760,435.2 804,437.6 C850,440 890,444 925,447 L925,450 C890,447 850,443 804,440.6 C760,438.2 700,438 641.4,438.6 Z" fill="#9a9995"/>
      <!-- steering wheel top -->
      <path d="M786,473.8 C796,470.4 820,470.4 834,473.8 Z" fill="#101012"/>
      <!-- right pillar -->
      <polygon points="975.2,343 968,356 953.4,400.5 936,436 921.8,456.6 926,466 932,473.8 975.2,473.8" fill="#b2aca1"/>
      <polygon points="975.2,343 970,352 958,420 950,473.8 975.2,473.8" fill="#a49e93"/>
      <polygon points="921.8,456.6 926,466 932,473.8 952,473.8" fill="#8c867c"/>
      <polygon points="975.2,430 968,448 962,473.8 975.2,473.8" fill="#0c0c0e"/>
    </g>
    <!-- title strip -->
    <rect x="641.4" y="309.6" width="36" height="7.8" fill="#3c465e" opacity="0.75" filter="url(#soft)"/>
    <rect x="677" y="309.6" width="70" height="7.8" fill="#4a5a7a" opacity="0.32" filter="url(#soft)"/>
    <g fill="#e8e8f0" opacity="0.85">
      <rect x="643" y="311" width="8" height="2"/><rect x="655" y="311" width="12" height="2"/>
      <rect x="643" y="314.4" width="7" height="2"/><rect x="655" y="314.4" width="12" height="2"/>
    </g>
    <!-- gauges -->
    <g>
      <circle cx="777" cy="449.2" r="20.9" fill="#8d8c88" stroke="#f4f4f4" stroke-width="2.2"/>
      <circle cx="777" cy="449.2" r="17" fill="none" stroke="#e4e4e4" stroke-width="0.8" opacity="0.5"/>
      <path d="M765.2,462 A17.2,17.2 0 1 1 790.4,460" fill="none" stroke="#16c02c" stroke-width="3.1" stroke-dasharray="3.6 1.3"/>
      <line x1="777.4" y1="448.2" x2="765" y2="456" stroke="#e81818" stroke-width="1.6"/>
      <rect x="774" y="440.6" width="7" height="2" fill="#e8e8e8" opacity="0.8"/>
      <circle cx="810.6" cy="461" r="9.2" fill="#8d8c88" stroke="#f4f4f4" stroke-width="2"/>
      <path d="M805.6,465.8 A6.8,6.8 0 1 1 816,465.4" fill="none" stroke="#16c02c" stroke-width="2.2" stroke-dasharray="2 1.2"/>
      <line x1="811" y1="460.6" x2="807" y2="464.4" stroke="#e81818" stroke-width="1.2"/>
    </g>
  </g>

  <!-- city road label -->
  <rect x="758.9" y="179.4" width="206.5" height="107.4" fill="#ffffff" stroke="#0a6abf" stroke-width="5"/>
  <text class="serif" x="861.5" y="223" text-anchor="middle" style="font-size:39.5px">City road</text>
  <text class="serif" x="861.8" y="270.1" text-anchor="middle" style="font-size:38.7px">(5 min)</text>

  <!-- ======== Transition points box + arrows ======== -->
  <g id="purple" stroke="#6a2aae" fill="none" stroke-linecap="butt">
    <line x1="429.2" y1="64" x2="342.5" y2="583" stroke-width="5.4"/>
    <line x1="609" y1="35" x2="721" y2="149.5" stroke-width="5.2"/>
    <line x1="609" y1="34" x2="806" y2="62" stroke-width="5.2"/>
  </g>
  <g fill="#6a2aae">
    <polygon points="340.2,593 335.2,580 348.6,582.2"/>
    <polygon points="727.8,153.6 722.8,142 713,153.2"/>
    <polygon points="815.5,63.8 799,69.5 801.5,52"/>
  </g>
  <rect x="249.9" y="3.65" width="358.5" height="58.9" fill="#ffffff" stroke="#6a2aae" stroke-width="4.9"/>
  <text class="serif" x="428.6" y="46.9" text-anchor="middle" style="font-size:39px">Transition points</text>

  <!-- ======== balls ======== -->
  <circle cx="338.4" cy="602.7" r="10.3" fill="url(#ball)"/>
  <circle cx="736" cy="154.1" r="9.8" fill="url(#ball)"/>
  <circle cx="824.2" cy="62.8" r="9.8" fill="url(#ball)"/>

  <!-- ======== numbered callouts ======== -->
  <g id="c1">
    <polygon points="398.4,567.4 467.4,567.4 467.4,634.6 398.4,634.6 398.4,609.8 379.2,609.8 379.2,619.4 362.4,600.6 379.2,584 379.2,592.8 398.4,592.8" fill="#ffff00" stroke="#c00000" stroke-width="4.2" stroke-linejoin="miter"/>
    <path d="M422.6,616.4 L422.6,612.2 L430,612.2 L430,588.4 L423.4,592.6 L423.4,588 L430.8,581.5 L435.2,581.5 L435.2,612.2 L441.6,612.2 L441.6,616.4 Z" fill="#000"/>
  </g>
  <g id="c2">
    <polygon points="603.2,132.7 671.8,132.7 671.8,157 691.6,157 691.6,148.6 708.6,165.8 691.6,183.6 691.6,174.6 671.8,174.6 671.8,200.5 603.2,200.5" fill="#ffff00" stroke="#c00000" stroke-width="4.2" stroke-linejoin="miter"/>
    <text class="num" x="638.3" y="181.6" text-anchor="middle">2</text>
  </g>
  <g id="c3">
    <polygon points="916.4,18.4 984.4,18.4 984.4,85.7 916.4,85.7 916.4,60.8 897,60.8 897,69.4 881.4,51.4 897,34.4 897,44 916.4,44" fill="#b4ffff" stroke="#0a6abf" stroke-width="4.6" stroke-linejoin="miter"/>
    <text class="num" x="951.2" y="67.6" text-anchor="middle">3</text>
  </g>
</svg>
</body>
</html>
